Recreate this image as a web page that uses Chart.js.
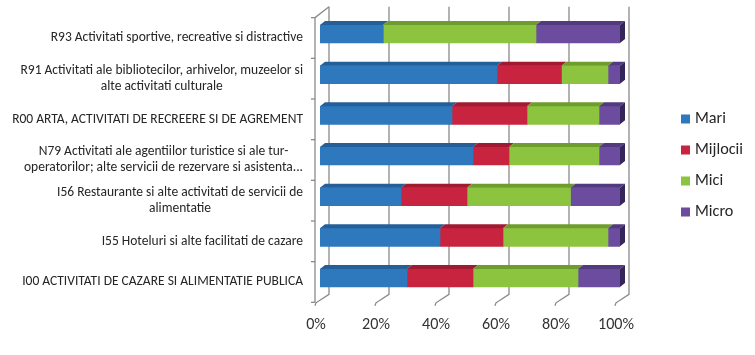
<!DOCTYPE html>
<html><head><meta charset="utf-8">
<script src="https://cdn.jsdelivr.net/npm/chart.js@4"></script>
<style>html,body{margin:0;padding:0;background:#fff;}#wrap{width:755px;height:355px;position:relative}</style>
</head><body><div id="wrap"><canvas id="c" width="755" height="355"></canvas></div>
<script>
const categories = [
  ["R93 Activitati sportive, recreative si distractive"],
  ["R91 Activitati ale bibliotecilor, arhivelor, muzeelor si", "alte activitati culturale"],
  ["R00 ARTA, ACTIVITATI DE RECREERE SI DE AGREMENT"],
  ["N79 Activitati ale agentiilor turistice si ale tur-", "operatorilor; alte servicii de rezervare si asistenta..."],
  ["I56 Restaurante si alte activitati de servicii de", "alimentatie"],
  ["I55 Hoteluri si alte facilitati de cazare"],
  ["I00 ACTIVITATI DE CAZARE SI ALIMENTATIE PUBLICA"]
];
const seriesNames = ["Mari", "Mijlocii", "Mici", "Micro"];
const mari     = [21, 59, 44, 51, 27, 40, 29];
const mijlocii = [0, 21.5, 25, 12, 22, 21, 22];
const mici     = [51, 15.5, 24, 30, 34.5, 35, 35];
const micro    = [28, 4, 7, 7, 16.5, 4, 14];
const xTicks = [0, 20, 40, 60, 80, 100];

const frontColors = ['#2E78BE', '#C8243F', '#8CC43F', '#6B4C9E'];
const topColors   = ['#245F98', '#A01B32', '#6E9D2E', '#523A7E'];
const sideColors  = ['#1B4775', '#781426', '#52761F', '#35255A'];

const FAM = 'Carlito, Lato, "Open Sans", sans-serif';
function fitSize(text, target, weight) {
  const m = document.createElement('canvas').getContext('2d');
  m.font = (weight || '') + ' 100px ' + FAM;
  return 100 * target / m.measureText(text).width;
}
const labelSize = Math.min(13.5, fitSize(categories[2][0], 295));
const tickSize = Math.min(17, fitSize('100%', 36));
const legendSize = Math.min(17, fitSize('Mijlocii', 48));

const DX = 5, DY = 4;

const wallsPlugin = {
  id: 'walls',
  beforeDatasetsDraw(chart) {
    const ctx = chart.ctx, xs = chart.scales.x, ys = chart.scales.y, a = chart.chartArea;
    ctx.save();
    ctx.strokeStyle = '#8a8a8a';
    ctx.lineWidth = 1.3;
    const backTop = a.top - 7, backBot = a.bottom - 4, frontY = a.bottom + 4.5;
    xTicks.forEach(v => {
      const p = xs.getPixelForValue(v);
      ctx.beginPath();
      ctx.moveTo(p + 9, backTop);
      ctx.lineTo(p + 9, backBot);
      ctx.lineTo(p - 4, frontY);
      ctx.lineTo(p - 5, frontY + 3);
      ctx.stroke();
    });
    const p0 = xs.getPixelForValue(0);
    const wx = p0 - 5;
    ctx.beginPath();
    ctx.moveTo(p0 + 9, backTop);
    ctx.lineTo(wx, a.top + 4);
    ctx.lineTo(wx, frontY);
    ctx.stroke();
    const n = categories.length;
    const bounds = [a.top];
    for (let i = 0; i < n - 1; i++) bounds.push((ys.getPixelForTick(i) + ys.getPixelForTick(i + 1)) / 2);
    bounds.push(a.bottom);
    bounds.forEach(b => {
      ctx.beginPath();
      ctx.moveTo(wx - 4, b + 4);
      ctx.lineTo(wx, b + 4);
      ctx.stroke();
    });
    ctx.restore();
  },
  afterDatasetsDraw(chart) {
    const ctx = chart.ctx;
    ctx.save();
    const n = categories.length;
    for (let i = 0; i < n; i++) {
      let lastIdx = -1;
      chart.data.datasets.forEach((ds, d) => {
        const el = chart.getDatasetMeta(d).data[i];
        const { x, base, y, height } = el.getProps(['x', 'base', 'y', 'height'], true);
        if (Math.abs(x - base) < 0.5) return;
        const t = y - height / 2;
        ctx.fillStyle = topColors[d];
        ctx.beginPath();
        ctx.moveTo(base, t);
        ctx.lineTo(x, t);
        ctx.lineTo(x + DX, t - DY);
        ctx.lineTo(base + DX, t - DY);
        ctx.closePath();
        ctx.fill();
        lastIdx = d;
      });
      if (lastIdx >= 0) {
        const el = chart.getDatasetMeta(lastIdx).data[i];
        const { x, y, height } = el.getProps(['x', 'y', 'height'], true);
        const t = y - height / 2, b = y + height / 2;
        ctx.fillStyle = sideColors[lastIdx];
        ctx.beginPath();
        ctx.moveTo(x, t);
        ctx.lineTo(x + DX, t - DY);
        ctx.lineTo(x + DX, b - DY);
        ctx.lineTo(x, b);
        ctx.closePath();
        ctx.fill();
      }
    }
    ctx.restore();
  },
  afterDraw(chart) {
    const ctx = chart.ctx, ys = chart.scales.y;
    ctx.save();
    // category labels
    ctx.font = labelSize + 'px ' + FAM;
    ctx.fillStyle = '#262626';
    ctx.textAlign = 'center';
    ctx.textBaseline = 'middle';
    const right = 303, lh = 16;
    categories.forEach((lines, i) => {
      const yc = ys.getPixelForTick(i) + 4;
      const w = Math.max(...lines.map(l => ctx.measureText(l).width));
      const cx = right - w / 2;
      const y0 = yc - (lines.length - 1) * lh / 2;
      lines.forEach((l, k) => ctx.fillText(l, cx, y0 + k * lh));
    });
    // legend
    ctx.font = legendSize + 'px ' + FAM;
    ctx.textAlign = 'left';
    chart.data.datasets.forEach((ds, d) => {
      const yc = 119 + d * 31;
      ctx.fillStyle = ds.backgroundColor;
      ctx.fillRect(681, yc - 4.5, 9, 9);
      ctx.fillStyle = '#262626';
      ctx.fillText(ds.label, 695, yc);
    });
    ctx.restore();
  }
};

const seriesData = [mari, mijlocii, mici, micro];
new Chart(document.getElementById('c'), {
  type: 'bar',
  data: {
    labels: categories,
    datasets: seriesNames.map((name, d) => ({
      label: name,
      data: seriesData[d],
      backgroundColor: frontColors[d],
      borderWidth: 0,
      barThickness: 18
    }))
  },
  options: {
    indexAxis: 'y',
    responsive: false,
    animation: false,
    layout: { padding: { left: 0, right: 135, top: 13.67, bottom: 0 } },
    plugins: { legend: { display: false }, tooltip: { enabled: false } },
    scales: {
      x: {
        stacked: true, min: 0, max: 100,
        afterBuildTicks: s => { s.ticks = xTicks.map(v => ({ value: v })); },
        afterFit: s => { s.height = 56.67; },
        grid: { display: false, drawTicks: false },
        border: { display: false },
        ticks: {
          callback: v => v + '%',
          font: { family: FAM, size: tickSize },
          color: '#333333',
          padding: 17,
          labelOffset: -4,
          maxRotation: 0
        }
      },
      y: {
        stacked: true,
        afterFit: s => { s.width = 320; },
        grid: { display: false, drawTicks: false },
        border: { display: false },
        ticks: { display: false }
      }
    }
  },
  plugins: [wallsPlugin]
});
</script>
</body></html>
